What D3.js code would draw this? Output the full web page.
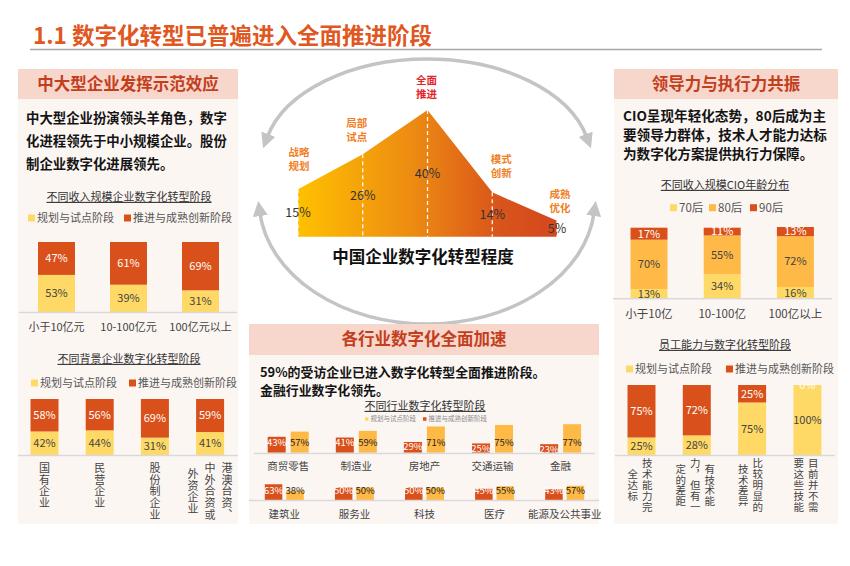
<!DOCTYPE html>
<html>
<head>
<meta charset="utf-8">
<script src="https://cdn.jsdelivr.net/npm/d3@7"></script>
<style>
  html, body { margin: 0; padding: 0; background: #fff; }
  svg { display: block; font-family: "Noto Sans CJK SC", "Noto Sans", sans-serif; }
</style>
</head>
<body>
<svg id="chart" width="850" height="566"></svg>
<script>
// ---- data ----
var sizeCats = ["小于10亿元", "10-100亿元", "100亿元以上"];
var sizePlan = [53, 39, 31];
var sizeAdv = [47, 61, 69];

var bgCats = ["国有企业", "民营企业", "股份制企业", "港澳台资、中外合资或外资企业"];
var bgLabels = [["国有企业"], ["民营企业"], ["股份制企业"], ["港澳台资、", "中外合资或", "外资企业"]];
var bgPlan = [42, 44, 31, 41];
var bgAdv = [58, 56, 69, 59];

var stages = ["战略规划", "局部试点", "全面推进", "模式创新", "成熟优化"];
var stageVals = [15, 26, 40, 14, 5];

var ind1Cats = ["商贸零售", "制造业", "房地产", "交通运输", "金融"];
var ind1Adv = [43, 41, 29, 25, 23];
var ind1Plan = [57, 59, 71, 75, 77];
var ind2Cats = ["建筑业", "服务业", "科技", "医疗", "能源及公共事业"];
var ind2Adv = [63, 50, 50, 45, 43];
var ind2Plan = [38, 50, 50, 55, 57];

var cioCats = ["小于10亿", "10-100亿", "100亿以上"];
var cio70 = [13, 34, 16];
var cio80 = [70, 55, 72];
var cio90 = [17, 11, 13];

var skillCats = ["技术能力完全达标", "有技术能力，但有一定的差距", "比较明显的技术差异", "目前并不需要这些技能"];
var skillLabels = [["技术能力完", "全达标"], ["有技术能", "力，但有一", "定的差距"], ["比较明显的", "技术差异"], ["目前并不需", "要这些技能"]];
var skillPlan = [25, 28, 75, 100];
var skillAdv = [75, 72, 25, 0];

var legendPlan = "规划与试点阶段";
var legendAdv = "推进与成熟创新阶段";

// ---- colours ----
var C_YEL = "#FFD966", C_GOLD = "#FFB946", C_RED = "#D9501A";
var HEAD_BG = "#F7D6CC", BODY_BG = "#FCF6F3", HEAD_TXT = "#C33F1C";

var svg = d3.select("#chart");

// title
svg.append("text").attr("x", 33).attr("y", 44)
  .attr("font-size", 22.5).attr("font-weight", "bold").attr("fill", "#E0571F")
  .text("1.1 数字化转型已普遍进入全面推进阶段");
svg.append("line").attr("x1", 30).attr("x2", 822).attr("y1", 49.5).attr("y2", 49.5)
  .attr("stroke", "#A6A6A6").attr("stroke-width", 1.5);

// ---- cycle arcs (drawn first, panels cover the bottom) ----
var defs = svg.append("defs");
defs.append("marker").attr("id", "arr").attr("viewBox", "0 0 10 10")
  .attr("refX", 2).attr("refY", 5).attr("markerWidth", 15).attr("markerHeight", 15)
  .attr("markerUnits", "userSpaceOnUse").attr("orient", "auto-start-reverse")
  .append("path").attr("d", "M0,0L10,5L0,10z").attr("fill", "#C4C4C4");

function ellArc(cx, cy, rx, ry, yEnd, sweep) {
  var dx = rx * Math.sqrt(1 - Math.pow((yEnd - cy) / ry, 2));
  return "M" + (cx - dx) + "," + yEnd + "A" + rx + "," + ry + " 0 0 " + sweep + " " + (cx + dx) + "," + yEnd;
}
svg.append("path").attr("d", ellArc(427, 160, 164, 101, 137, 1))
  .attr("fill", "none").attr("stroke", "#C4C4C4").attr("stroke-width", 3.5)
  .attr("marker-start", "url(#arr)").attr("marker-end", "url(#arr)");
svg.append("path").attr("d", ellArc(427, 200, 168, 124, 213, 0))
  .attr("fill", "none").attr("stroke", "#C4C4C4").attr("stroke-width", 3.5)
  .attr("marker-start", "url(#arr)").attr("marker-end", "url(#arr)");

// ---- area chart ----
var grad = defs.append("linearGradient").attr("id", "ag")
  .attr("gradientUnits", "userSpaceOnUse").attr("x1", 298).attr("x2", 557).attr("y1", 0).attr("y2", 0);
grad.append("stop").attr("offset", 0).attr("stop-color", "#FFC000");
grad.append("stop").attr("offset", 0.45).attr("stop-color", "#EC8A12");
grad.append("stop").attr("offset", 0.78).attr("stop-color", "#D9541B");
grad.append("stop").attr("offset", 1).attr("stop-color", "#D4471D");

var sx = d3.scalePoint().domain(stages).range([298, 557]);
var sy = d3.scaleLinear().domain([0, 40]).range([236.7, 110]);
var sdata = stages.map(function (s, i) { return { s: s, v: stageVals[i] }; });
svg.append("path").datum(sdata)
  .attr("d", d3.area().x(function (d) { return sx(d.s); }).y0(sy(0)).y1(function (d) { return sy(d.v); }))
  .attr("fill", "url(#ag)");
svg.append("g").selectAll("line").data(sdata).join("line")
  .attr("x1", function (d) { return sx(d.s); }).attr("x2", function (d) { return sx(d.s); })
  .attr("y1", function (d) { return sy(d.v); }).attr("y2", sy(0))
  .attr("stroke", "#fff").attr("stroke-width", 1.2).attr("stroke-dasharray", "4,3");
svg.append("g").selectAll("text").data(sdata).join("text")
  .attr("x", function (d) { return sx(d.s); })
  .attr("y", function (d) { return (sy(d.v) + sy(0)) / 2; })
  .attr("dy", "0.35em").attr("text-anchor", "middle").attr("font-size", 12.5).attr("fill", "#333")
  .text(function (d) { return d.v + "%"; });
var stageDx = [1, -6, -1, 9, 3];
var stageDy = [-23, -17, -16, -19, -13];
// each stage name on two lines, one text per line
[0, 1].forEach(function (ln) {
  svg.append("g").selectAll("text").data(sdata).join("text")
    .attr("x", function (d, i) { return sx(d.s) + stageDx[i]; })
    .attr("y", function (d, i) { return sy(d.v) + stageDy[i] - (1 - ln) * 14; })
    .attr("dy", "0.35em").attr("text-anchor", "middle").attr("font-size", 10.5).attr("font-weight", "bold")
    .attr("fill", function (d, i) { return i === 2 ? "#E3262B" : "#F07F1F"; })
    .text(function (d) { return d.s.slice(ln * 2, ln * 2 + 2); });
});
svg.append("text").attr("x", 423).attr("y", 257).attr("dy", "0.35em").attr("text-anchor", "middle")
  .attr("font-size", 16.5).attr("font-weight", "bold").attr("fill", "#111").text("中国企业数字化转型程度");

// ---- panels ----
function panel(x, y, w, hh, hb, title) {
  svg.append("rect").attr("x", x).attr("y", y + hh).attr("width", w).attr("height", hb).attr("fill", BODY_BG);
  svg.append("rect").attr("x", x).attr("y", y).attr("width", w).attr("height", hh).attr("fill", HEAD_BG);
  svg.append("text").attr("x", x + w / 2).attr("y", y + hh / 2).attr("dy", "0.35em")
    .attr("text-anchor", "middle").attr("font-size", 16.5).attr("font-weight", "bold")
    .attr("fill", HEAD_TXT).text(title);
}
panel(18, 69, 220, 30, 425, "中大型企业发挥示范效应");
panel(249, 324, 350, 31, 169, "各行业数字化全面加速");
panel(614, 69, 224, 30, 425, "领导力与执行力共振");

function para(lines, x, y0, lh, fs) {
  lines.forEach(function (s, i) {
    svg.append("text").attr("x", x).attr("y", y0 + i * lh).attr("dy", "0.35em")
      .attr("font-size", fs).attr("font-weight", "bold").attr("fill", "#141414").text(s);
  });
}
para(["中大型企业扮演领头羊角色，数字", "化进程领先于中小规模企业。股份", "制企业数字化进展领先。"], 26, 118, 23, 13.4);
para(["CIO呈现年轻化态势，80后成为主", "要领导力群体，技术人才能力达标", "为数字化方案提供执行力保障。"], 623, 116.7, 19, 13.6);
para(["59%的受访企业已进入数字化转型全面推进阶段。", "金融行业数字化领先。"], 260, 372, 18.5, 12.9);

// ---- helpers ----
function band(domain, c0, step, w) {
  var p = 1 - w / step;
  return d3.scaleBand().domain(domain).range([c0 - step / 2, c0 - step / 2 + step * domain.length])
    .paddingInner(p).paddingOuter(p / 2);
}
function ctitle(x, y, s, fs) {
  svg.append("text").attr("x", x).attr("y", y).attr("dy", "0.35em").attr("text-anchor", "middle")
    .attr("font-size", fs || 11).attr("fill", "#333").style("text-decoration", "underline").text(s);
}
function legend(items, y, fs, sq, col) {
  items.forEach(function (it) {
    svg.append("rect").attr("x", it.x).attr("y", y - sq / 2).attr("width", sq).attr("height", sq).attr("fill", it.c);
    svg.append("text").attr("x", it.x + sq + 2).attr("y", y).attr("dy", "0.35em")
      .attr("font-size", fs).attr("fill", col || "#555").text(it.t);
  });
}
function baseLine(x1, x2, y) {
  svg.append("line").attr("x1", x1).attr("x2", x2).attr("y1", y).attr("y2", y)
    .attr("stroke", "#D9D9D9").attr("stroke-width", 1.5);
}
function stacked(g, cats, keys, arrays, colors, txt, x, y, fs) {
  var rows = cats.map(function (c, i) {
    var r = { cat: c };
    keys.forEach(function (k, j) { r[k] = arrays[j][i]; });
    return r;
  });
  var series = d3.stack().keys(keys)(rows);
  series.forEach(function (s, si) {
    g.append("g").selectAll("rect").data(s).join("rect")
      .attr("x", function (d) { return x(d.data.cat); }).attr("width", x.bandwidth())
      .attr("y", function (d) { return y(d[1]); })
      .attr("height", function (d) { return y(d[0]) - y(d[1]); })
      .attr("fill", colors[si]);
  });
  series.forEach(function (s, si) {
    g.append("g").selectAll("text").data(s).join("text")
      .attr("x", function (d) { return x(d.data.cat) + x.bandwidth() / 2; })
      .attr("y", function (d) { return (y(d[0]) + y(d[1])) / 2; })
      .attr("dy", "0.35em").attr("text-anchor", "middle").attr("font-size", fs).attr("fill", txt[si])
      .text(function (d) { return d.data[keys[si]] + "%"; });
  });
}
function hLabels(cats, x, y, fs) {
  svg.append("g").selectAll("text").data(cats).join("text")
    .attr("x", function (d) { return x(d) + x.bandwidth() / 2; }).attr("y", y).attr("dy", "0.35em")
    .attr("text-anchor", "middle").attr("font-size", fs).attr("fill", "#444").text(function (d) { return d; });
}
// vertical category labels, one text per column, columns run right to left
function vLabels(cats, labels, x, y0, gap, fs, ls, shift) {
  var pitch = fs + ls;
  cats.forEach(function (c, i) {
    var cols = labels[i], n = cols.length;
    var maxLen = d3.max(cols, function (s) { return s.length; });
    var cx = x(c) + x.bandwidth() / 2 + (shift || 0);
    cols.forEach(function (col, k) {
      svg.append("text")
        .attr("x", cx + ((n - 1) / 2 - k) * gap)
        .attr("y", y0 + (maxLen - col.length) * pitch / 2)
        .style("writing-mode", "vertical-rl").attr("letter-spacing", ls)
        .attr("font-size", fs).attr("fill", "#444").text(col);
    });
  });
}

// ---- left chart 1 ----
ctitle(129, 197, "不同收入规模企业数字化转型阶段");
legend([{ x: 28, c: C_YEL, t: legendPlan }, { x: 124, c: C_RED, t: legendAdv }], 218, 11, 7);
var x1 = band(sizeCats, 56.5, 72, 37);
var y1 = d3.scaleLinear().domain([0, 100]).range([312, 242]);
stacked(svg.append("g"), sizeCats, ["plan", "adv"], [sizePlan, sizeAdv], [C_YEL, C_RED], ["#444", "#fff"], x1, y1, 11);
baseLine(19, 237, 312.5);
hLabels(sizeCats, x1, 327, 11);

// ---- left chart 2 ----
ctitle(129, 359, "不同背景企业数字化转型阶段");
legend([{ x: 31, c: C_YEL, t: legendPlan }, { x: 129, c: C_RED, t: legendAdv }], 383, 11, 7);
var x2 = band(bgCats, 44.5, 55.2, 28);
var y2 = d3.scaleLinear().domain([0, 100]).range([455, 399]);
stacked(svg.append("g"), bgCats, ["plan", "adv"], [bgPlan, bgAdv], [C_YEL, C_RED], ["#444", "#fff"], x2, y2, 11);
baseLine(18, 238, 455.5);
vLabels(bgCats, bgLabels, x2, 462.5, 17, 11, 0.6, 0);

// ---- right chart 1 ----
ctitle(725, 185, "不同收入规模CIO年龄分布");
legend([{ x: 670, c: C_YEL, t: "70后" }, { x: 709, c: C_GOLD, t: "80后" }, { x: 750, c: C_RED, t: "90后" }], 207.7, 11.5, 7);
var x3 = band(cioCats, 649, 73.2, 37);
var y3 = d3.scaleLinear().domain([0, 100]).range([298.3, 227.7]);
stacked(svg.append("g"), cioCats, ["a70", "a80", "a90"], [cio70, cio80, cio90], [C_YEL, C_GOLD, C_RED], ["#444", "#444", "#fff"], x3, y3, 11);
baseLine(613, 832, 298.8);
hLabels(cioCats, x3, 314, 11.5);

// ---- right chart 2 ----
ctitle(725, 345, "员工能力与数字化转型阶段");
legend([{ x: 626, c: C_YEL, t: legendPlan }, { x: 726, c: C_RED, t: legendAdv }], 369, 11, 7);
defs.append("clipPath").attr("id", "skclip").append("rect").attr("x", 614).attr("y", 384).attr("width", 224).attr("height", 80);
var x4 = band(skillCats, 641.5, 55.3, 28);
var y4 = d3.scaleLinear().domain([0, 100]).range([455, 385]);
stacked(svg.append("g").attr("clip-path", "url(#skclip)"), skillCats, ["plan", "adv"], [skillPlan, skillAdv], [C_YEL, C_RED], ["#444", "#fff"], x4, y4, 11);
baseLine(615, 835, 455.5);
vLabels(skillCats, skillLabels, x4, 458, 14.5, 10.5, 0.4, -1.5);

// ---- centre industry chart ----
ctitle(425, 406, "不同行业数字化转型阶段");
legend([{ x: 365, c: C_YEL, t: legendPlan }, { x: 423, c: C_RED, t: legendAdv }], 419, 6.5, 3.5, "#888");

function pairRow(cats, adv, plan, c0, step, bw, gap, base, ppp, lblY) {
  var keys = ["adv", "plan"];
  var xo = band(cats, c0, step, bw * 2 + gap);
  var xi = d3.scaleBand().domain(keys).range([0, bw * 2 + gap]).paddingInner(gap / (bw + gap));
  var y = d3.scaleLinear().domain([0, 100]).range([base, base - 100 * ppp]);
  var rows = [];
  cats.forEach(function (c, i) {
    rows.push({ cat: c, k: "adv", v: adv[i] });
    rows.push({ cat: c, k: "plan", v: plan[i] });
  });
  var g = svg.append("g");
  g.selectAll("rect").data(rows).join("rect")
    .attr("x", function (d) { return xo(d.cat) + xi(d.k); }).attr("width", xi.bandwidth())
    .attr("y", function (d) { return y(d.v); }).attr("height", function (d) { return base - y(d.v); })
    .attr("fill", function (d) { return d.k === "adv" ? C_RED : C_GOLD; });
  g.selectAll("text").data(rows).join("text")
    .attr("x", function (d) { return xo(d.cat) + xi(d.k) + xi.bandwidth() / 2; })
    .attr("y", function (d) { return lblY(y(d.v)); }).attr("dy", "0.35em")
    .attr("text-anchor", "middle").attr("font-size", 9.5)
    .attr("fill", function (d) { return d.k === "adv" ? "#fff" : "#222"; })
    .text(function (d) { return d.v + "%"; });
  return xo;
}
var xr1 = pairRow(ind1Cats, ind1Adv, ind1Plan, 288.2, 68.1, 18, 5, 452.7, 0.37,
  function (t) { return Math.max(442.7, t + 5); });
baseLine(254, 595, 453.5);
hLabels(ind1Cats, xr1, 466.7, 10.5);
var xr2 = pairRow(ind2Cats, ind2Adv, ind2Plan, 284.3, 70.1, 17.5, 4, 500, 0.25,
  function () { return 490.5; });
baseLine(249, 599, 500.5);
hLabels(ind2Cats, xr2, 514.3, 10.5);
</script>
</body>
</html>
